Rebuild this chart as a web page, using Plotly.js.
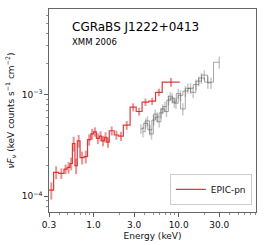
<!DOCTYPE html>
<html><head><meta charset="utf-8">
<script src="https://cdn.plot.ly/plotly-3.0.1.min.js"></script>
<style>html,body{margin:0;padding:0;background:#fff;}#chart{width:266px;height:245px;}</style>
</head><body><div id="chart"></div>
<script>
// EPIC-pn bins (keV edges), nuFnu and 1-sigma errors
const pnEdges = [0.30,0.34,0.39,0.45,0.49,0.53,0.565,0.605,0.645,0.695,0.775,0.85,0.93,1.0,1.08,1.17,1.25,1.34,1.43,1.53,1.75,1.97,2.24,2.69,3.17,3.72,4.46,5.35,6.41,10.3];
const pnFlux  = [1.15e-4,1.72e-4,1.68e-4,1.85e-4,1.92e-4,2.1e-4,3.3e-4,2.0e-4,3.5e-4,2.4e-4,2.45e-4,3.6e-4,4.1e-4,4.3e-4,3.7e-4,3.9e-4,3.5e-4,3.8e-4,3.4e-4,4.4e-4,4.0e-4,3.9e-4,5.0e-4,7.5e-4,6.8e-4,8.4e-4,8.6e-4,1.05e-3,1.32e-3];
const pnErr   = [0.22e-4,0.25e-4,0.2e-4,0.2e-4,0.25e-4,0.3e-4,0.55e-4,0.35e-4,0.5e-4,0.35e-4,0.35e-4,0.45e-4,0.5e-4,0.45e-4,0.45e-4,0.45e-4,0.4e-4,0.45e-4,0.4e-4,0.45e-4,0.4e-4,0.4e-4,0.5e-4,0.7e-4,0.6e-4,0.7e-4,0.7e-4,0.9e-4,1.3e-4];

// second instrument (grey) — two overlapping spectra
const grayE_A = [3.6,4.1,4.6,5.1,5.6,6.2,6.9,7.6,8.4,9.3,10.5,12.0,13.8,16.0,18.5,22.0,30.0];
const grayF_A = [4.6e-4,5.2e-4,4.5e-4,5.6e-4,6.0e-4,6.6e-4,7.6e-4,8.8e-4,9.2e-4,8.2e-4,9.8e-4,1.08e-3,1.15e-3,1.25e-3,1.45e-3,1.32e-3,2.07e-3];
const grayErr_A = [0.5e-4,0.6e-4,0.55e-4,0.65e-4,0.7e-4,0.8e-4,0.9e-4,1.0e-4,1.1e-4,1.0e-4,1.2e-4,1.3e-4,1.4e-4,1.5e-4,1.8e-4,1.8e-4,2.8e-4];
const grayE_B = [3.8,4.3,4.8,5.3,5.9,6.5,7.2,8.0,8.9,9.9,11.2,12.8,14.8,17.2,20.0,24.0];
const grayF_B = [4.3e-4,5.5e-4,4.1e-4,6.4e-4,5.4e-4,7.2e-4,6.8e-4,9.6e-4,8.4e-4,1.02e-3,7.2e-4,1.15e-3,1.05e-3,1.35e-3,1.55e-3,1.3e-3];
const grayErr_B = [0.5e-4,0.6e-4,0.5e-4,0.7e-4,0.65e-4,0.8e-4,0.8e-4,1.0e-4,1.0e-4,1.1e-4,1.0e-4,1.3e-4,1.3e-4,1.5e-4,1.8e-4,1.7e-4];

const xTickVals = [0.3,1,3,10,30];
const xTickText = ["0.3","1.0","3.0","10.0","30.0"];
const yTickVals = [1e-4,1e-3];
const yTickText = ["10<sup>−4</sup>","10<sup>−3</sup>"];

// step line built from edges
const stepX = pnEdges.slice();
const stepY = pnFlux.concat([pnFlux[pnFlux.length-1]]);
const pnCenters = pnFlux.map((_,i)=>Math.sqrt(pnEdges[i]*pnEdges[i+1]));

const red = 'rgba(214,39,40,0.9)';
const redL = 'rgba(214,39,40,0.5)';
const grayLine = 'rgba(80,80,80,0.5)';
const grayErr = 'rgba(80,80,80,0.32)';

function grayTraces(E,F,Er){
  return [
    {x:E,y:F,type:'scatter',mode:'lines',line:{shape:'hvh',color:grayLine,width:1},showlegend:false,hoverinfo:'skip'},
    {x:E,y:F,type:'scatter',mode:'markers',marker:{size:1,color:'rgba(0,0,0,0)'},showlegend:false,
     error_y:{type:'data',array:Er,visible:true,color:grayErr,thickness:1.5,width:0}}
  ];
}

const data = [
  ...grayTraces(grayE_A,grayF_A,grayErr_A),
  ...grayTraces(grayE_B,grayF_B,grayErr_B),
  {x:pnCenters,y:pnFlux,type:'scatter',mode:'markers',marker:{size:1,color:'rgba(0,0,0,0)'},showlegend:false,
   error_y:{type:'data',array:pnErr,visible:true,color:redL,thickness:2,width:0}},
  {x:stepX,y:stepY,type:'scatter',mode:'lines',name:'EPIC-pn',line:{shape:'hv',color:red,width:1.2}}
];

const axisCommon = {type:'log',showgrid:false,zeroline:false,showline:true,mirror:true,
  linecolor:'#666',linewidth:1.2,ticks:'outside',ticklen:3.5,tickwidth:0.8,tickcolor:'#333',
  tickfont:{family:'DejaVu Sans',size:9,color:'#111'}};

const xMinor = [0.4,0.5,0.6,0.7,0.8,0.9,2,4,5,6,7,8,9,20,40,50,60,70,80];
const yMinor = [8e-5,9e-5,2e-4,3e-4,4e-4,5e-4,6e-4,7e-4,8e-4,9e-4,2e-3,3e-3,4e-3,5e-3,6e-3];

const layout = {
  width:266,height:245,margin:{l:49,r:10,t:9,b:33},
  paper_bgcolor:'#fff',plot_bgcolor:'#fff',
  font:{family:'DejaVu Sans',size:9,color:'#111'},
  xaxis:Object.assign({},axisCommon,{range:[Math.log10(0.3),Math.log10(81)],
    tickmode:'array',tickvals:xTickVals,ticktext:xTickText,
    minor:{tickmode:'array',tickvals:xMinor,ticks:'outside',ticklen:2,tickwidth:0.6,tickcolor:'#444'},
    title:{text:'Energy (keV)',font:{family:'DejaVu Sans',size:9,color:'#111'},standoff:4}}),
  yaxis:Object.assign({},axisCommon,{range:[-4.154,-2.161],
    tickmode:'array',tickvals:yTickVals,ticktext:yTickText,
    minor:{tickmode:'array',tickvals:yMinor,ticks:'outside',ticklen:2,tickwidth:0.6,tickcolor:'#444'},
    title:{text:'<i>νF</i><sub><i>ν</i></sub> (keV counts s<sup>−1</sup> cm<sup>−2</sup>)',font:{family:'DejaVu Sans',size:9,color:'#111'},standoff:5}}),
  showlegend:true,
  legend:{x:0.98,y:0.035,xanchor:'right',yanchor:'bottom',bgcolor:'rgba(255,255,255,0.9)',
    bordercolor:'#ccc',borderwidth:1,font:{family:'DejaVu Sans',size:9,color:'#111'},
    itemwidth:30,tracegroupgap:0},
  annotations:[
    {xref:'paper',yref:'paper',x:0.1,y:0.91,xanchor:'left',yanchor:'middle',showarrow:false,
     text:'CGRaBS J1222+0413',font:{family:'DejaVu Sans',size:12,color:'#000'}},
    {xref:'paper',yref:'paper',x:0.1,y:0.835,xanchor:'left',yanchor:'middle',showarrow:false,
     text:'XMM 2006',font:{family:'DejaVu Sans',size:8.5,color:'#000'}}
  ]
};
Plotly.newPlot('chart',data,layout,{displayModeBar:false,staticPlot:true});
</script></body></html>
